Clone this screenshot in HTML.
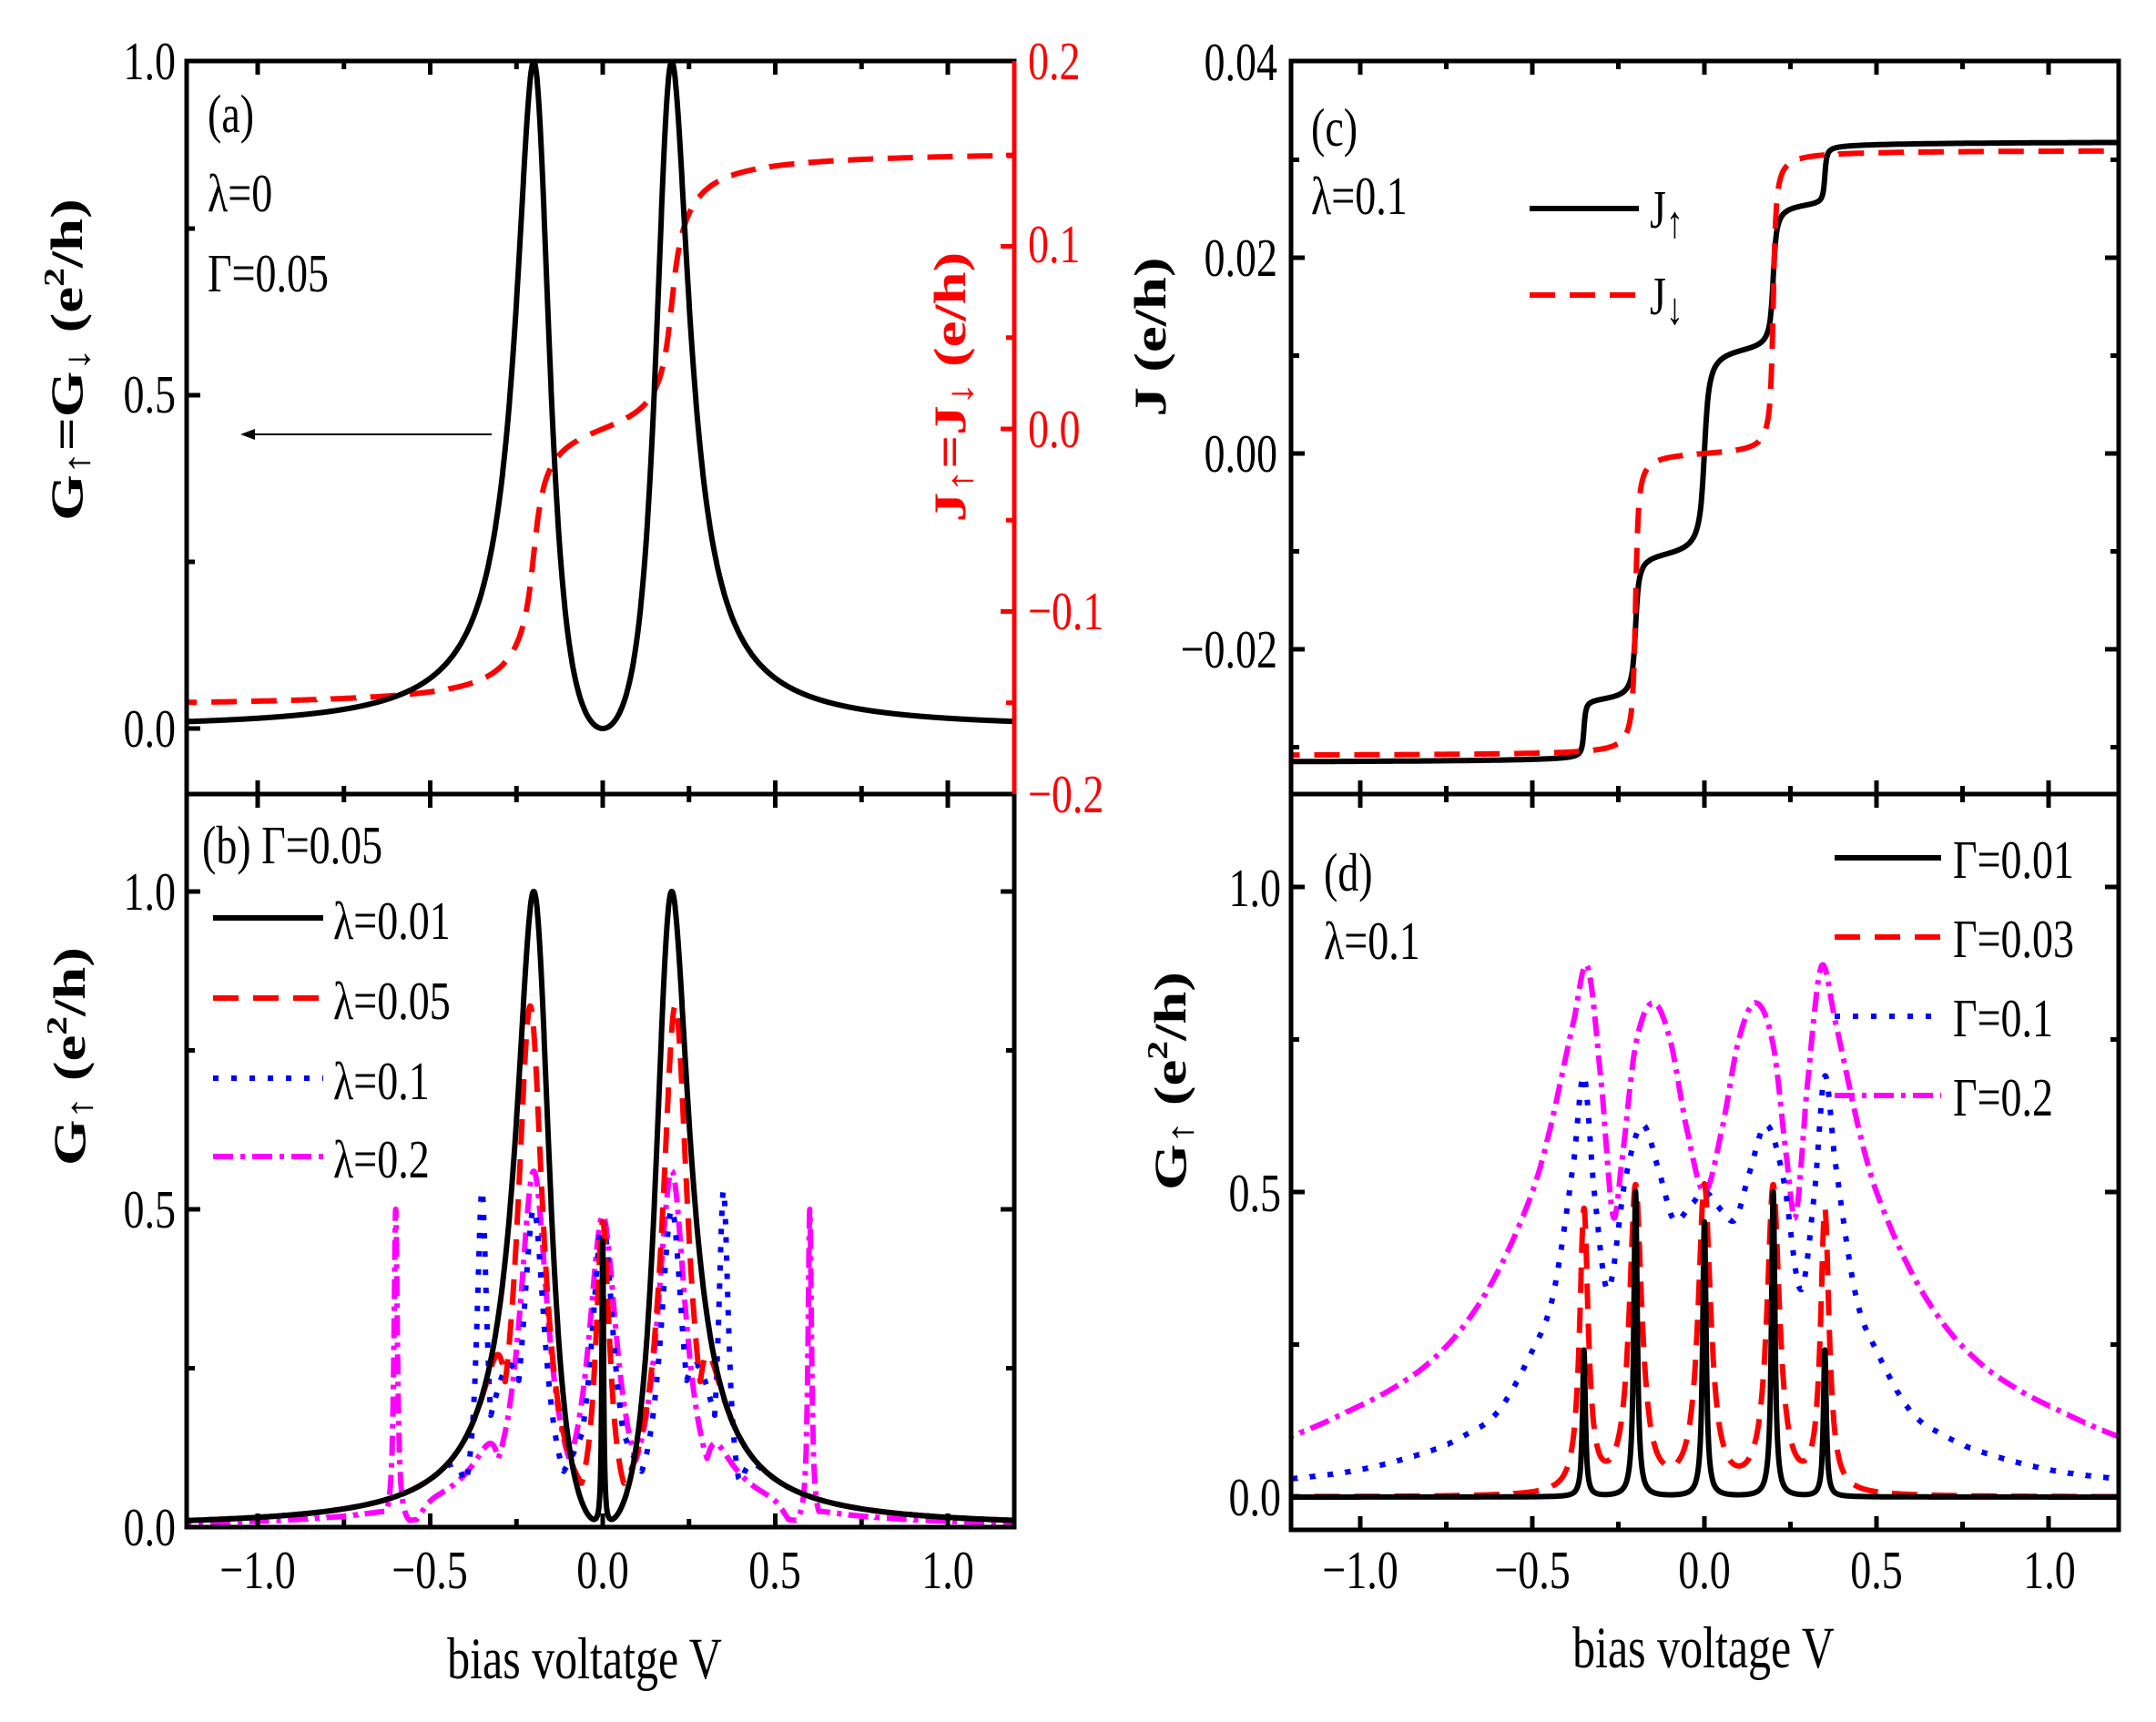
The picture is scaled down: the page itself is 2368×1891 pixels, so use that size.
<!DOCTYPE html>
<html><head><meta charset="utf-8">
<style>
html,body{margin:0;padding:0;background:#fff;}
svg{display:block;}
text{font-family:"Liberation Serif","DejaVu Serif",serif;}
.b{font-weight:bold;}
</style></head>
<body>
<svg id="s" width="2368" height="1891" viewBox="0 0 2368 1891" xmlns="http://www.w3.org/2000/svg">
<rect width="2368" height="1891" fill="#fff"/>
<defs>
<clipPath id="cA"><rect x="205" y="67" width="909" height="805"/></clipPath>
<clipPath id="cB"><rect x="205" y="872" width="909" height="805"/></clipPath>
<clipPath id="cC"><rect x="1418" y="67" width="909" height="805"/></clipPath>
<clipPath id="cD"><rect x="1418" y="872" width="909" height="808"/></clipPath>
</defs>
<g id="curves"></g>
<g id="ticks"></g>
<g fill="none" stroke="#000" stroke-width="5">
<rect x="205" y="67" width="909" height="1610"/>
<line x1="205" y1="872" x2="1114" y2="872"/>
<rect x="1418" y="67" width="909" height="1613"/>
<line x1="1418" y1="872" x2="2327" y2="872"/>
</g>
<line x1="1114" y1="67" x2="1114" y2="872" stroke="#f00" stroke-width="5"/>
<line x1="540" y1="477" x2="275" y2="477" stroke="#000" stroke-width="2"/>
<polygon points="264,477 280,471 280,483" fill="#000"/>

<g font-size="46">
<text transform="translate(193,87) scale(1,1.3)" text-anchor="end">1.0</text>
<text transform="translate(193,453) scale(1,1.3)" text-anchor="end">0.5</text>
<text transform="translate(193,820) scale(1,1.3)" text-anchor="end">0.0</text>
<g fill="#f00">
<text transform="translate(1129,87) scale(1,1.3)">0.2</text>
<text transform="translate(1129,288) scale(1,1.3)">0.1</text>
<text transform="translate(1129,491) scale(1,1.3)">0.0</text>
<text transform="translate(1129,691) scale(1,1.3)">−0.1</text>
<text transform="translate(1129,892) scale(1,1.3)">−0.2</text>
</g>
<text transform="translate(193,999) scale(1,1.3)" text-anchor="end">1.0</text>
<text transform="translate(193,1348) scale(1,1.3)" text-anchor="end">0.5</text>
<text transform="translate(193,1697) scale(1,1.3)" text-anchor="end">0.0</text>
<text transform="translate(283,1744) scale(1,1.3)" text-anchor="middle">−1.0</text>
<text transform="translate(472,1744) scale(1,1.3)" text-anchor="middle">−0.5</text>
<text transform="translate(662,1744) scale(1,1.3)" text-anchor="middle">0.0</text>
<text transform="translate(851,1744) scale(1,1.3)" text-anchor="middle">0.5</text>
<text transform="translate(1041,1744) scale(1,1.3)" text-anchor="middle">1.0</text>
<text transform="translate(1403,88) scale(1,1.3)" text-anchor="end">0.04</text>
<text transform="translate(1403,303) scale(1,1.3)" text-anchor="end">0.02</text>
<text transform="translate(1403,518) scale(1,1.3)" text-anchor="end">0.00</text>
<text transform="translate(1403,733) scale(1,1.3)" text-anchor="end">−0.02</text>
<text transform="translate(1407,995) scale(1,1.3)" text-anchor="end">1.0</text>
<text transform="translate(1407,1330) scale(1,1.3)" text-anchor="end">0.5</text>
<text transform="translate(1407,1664) scale(1,1.3)" text-anchor="end">0.0</text>
<text transform="translate(1494,1744) scale(1,1.3)" text-anchor="middle">−1.0</text>
<text transform="translate(1683,1744) scale(1,1.3)" text-anchor="middle">−0.5</text>
<text transform="translate(1872,1744) scale(1,1.3)" text-anchor="middle">0.0</text>
<text transform="translate(2061,1744) scale(1,1.3)" text-anchor="middle">0.5</text>
<text transform="translate(2251,1744) scale(1,1.3)" text-anchor="middle">1.0</text>

<text transform="translate(228,145) scale(1,1.3)">(a)</text>
<text transform="translate(228,232) scale(1,1.3)">λ=0</text>
<text transform="translate(228,320) scale(1,1.3)">Γ=0.05</text>
<text transform="translate(222,948) scale(1,1.3)">(b) Γ=0.05</text>
<text transform="translate(1440,160) scale(1,1.3)">(c)</text>
<text transform="translate(1440,235) scale(1,1.3)">λ=0.1</text>
<text transform="translate(1454,978) scale(1,1.3)">(d)</text>
<text transform="translate(1454,1053) scale(1,1.3)">λ=0.1</text>

<text transform="translate(366,1031) scale(1,1.3)">λ=0.01</text>
<text transform="translate(366,1119) scale(1,1.3)">λ=0.05</text>
<text transform="translate(366,1207) scale(1,1.3)">λ=0.1</text>
<text transform="translate(366,1293) scale(1,1.3)">λ=0.2</text>
<text transform="translate(1812,250) scale(1,1.3)">J<tspan font-size="38" dy="8">↑</tspan></text>
<text transform="translate(1812,345) scale(1,1.3)">J<tspan font-size="38" dy="8">↓</tspan></text>
<text transform="translate(2145,964) scale(1,1.3)">Γ=0.01</text>
<text transform="translate(2145,1051) scale(1,1.3)">Γ=0.03</text>
<text transform="translate(2145,1138) scale(1,1.3)">Γ=0.1</text>
<text transform="translate(2145,1225) scale(1,1.3)">Γ=0.2</text>
</g>

<text transform="translate(642,1843) scale(1,1.3)" text-anchor="middle" font-size="50">bias voltatge V</text>
<text transform="translate(1871,1831) scale(1,1.3)" text-anchor="middle" font-size="50">bias voltage V</text>

<g font-size="50" class="b">
<text class="b" transform="translate(90,395) scale(1,1.3) rotate(-90)" text-anchor="middle">G<tspan font-size="40" dy="8">↑</tspan><tspan dy="-8">=G</tspan><tspan font-size="40" dy="8">↓</tspan><tspan dy="-8"> (e</tspan><tspan font-size="32" dy="-20">2</tspan><tspan dy="20">/h)</tspan></text>
<text class="b" fill="#f00" transform="translate(1060,425) scale(1,1.3) rotate(-90)" text-anchor="middle">J<tspan font-size="40" dy="8">↑</tspan><tspan dy="-8">=J</tspan><tspan font-size="40" dy="8">↓</tspan><tspan dy="-8"> (e/h)</tspan></text>
<text class="b" transform="translate(93,1160) scale(1,1.3) rotate(-90)" text-anchor="middle">G<tspan font-size="40" dy="8">↑</tspan><tspan dy="-8"> (e</tspan><tspan font-size="32" dy="-20">2</tspan><tspan dy="20">/h)</tspan></text>
<text class="b" transform="translate(1280,370) scale(1,1.3) rotate(-90)" text-anchor="middle">J (e/h)</text>
<text class="b" transform="translate(1302,1187) scale(1,1.3) rotate(-90)" text-anchor="middle">G<tspan font-size="40" dy="8">↑</tspan><tspan dy="-8"> (e</tspan><tspan font-size="32" dy="-20">2</tspan><tspan dy="20">/h)</tspan></text>
</g>

<g stroke-width="6" fill="none">
<line x1="234" y1="1008" x2="355" y2="1008" stroke="#000"/>
<line x1="234" y1="1096" x2="355" y2="1096" stroke="#f00" stroke-dasharray="28 16"/>
<line x1="234" y1="1184" x2="355" y2="1184" stroke="#00f" stroke-dasharray="6 14"/>
<line x1="234" y1="1270" x2="355" y2="1270" stroke="#f0f" stroke-dasharray="22 8 5 8"/>
<line x1="1680" y1="229" x2="1800" y2="229" stroke="#000"/>
<line x1="1680" y1="324" x2="1800" y2="324" stroke="#f00" stroke-dasharray="28 16"/>
<line x1="2015" y1="942" x2="2132" y2="942" stroke="#000"/>
<line x1="2015" y1="1029" x2="2132" y2="1029" stroke="#f00" stroke-dasharray="28 16"/>
<line x1="2015" y1="1116" x2="2132" y2="1116" stroke="#00f" stroke-dasharray="6 14"/>
<line x1="2015" y1="1203" x2="2132" y2="1203" stroke="#f0f" stroke-dasharray="22 8 5 8"/>
</g>
</svg>
<script>
(function(){
var NS="http://www.w3.org/2000/svg";
var cg=document.getElementById("curves"), tg=document.getElementById("ticks");
function el(tag,attrs,parent){var e=document.createElementNS(NS,tag);for(var k in attrs)e.setAttribute(k,attrs[k]);parent.appendChild(e);return e;}
function L(v,c,h,w){return h/(1+Math.pow((v-c)/w,2));}
function gA(v){var G=0.12,e=0.2,a=G*G*v*v,b=v*v-e*e;return a/(b*b+a);}
function sm(x){return 1/(1+Math.exp(-x));}
function st(v,c,s){return Math.atan((v-c)/s)/Math.PI+0.5;}
function herm(pts){
  var P=pts;
  return function(v){var x=Math.abs(v);
    for(var i=0;i<P.length-1;i++){if(x<=P[i+1][0]){
      var x0=P[i][0],x1=P[i+1][0],y0=P[i][1],y1=P[i+1][1];
      var pm=i>0?P[i-1]:[-P[1][0],P[1][1]], pn=i+2<P.length?P[i+2]:P[i+1];
      var m0=(y1-pm[1])/(x1-pm[0]), m1=(pn[1]-y0)/(pn[0]-x0);
      var h=x1-x0,t=(x-x0)/h,t2=t*t,t3=t2*t;
      return (2*t3-3*t2+1)*y0+(t3-2*t2+t)*h*m0+(-2*t3+3*t2)*y1+(t3-t2)*h*m1;}}
    return P[P.length-1][1];};
}
function draw(fn,X,Y,clip,color,dash,w){
  var d="",n=4800;
  for(var i=0;i<=n;i++){var v=-1.25+2.5*i/n;var x=X(v),y=Y(fn(v));d+=(i?"L":"M")+x.toFixed(1)+","+y.toFixed(1);}
  var a={d:d,fill:"none",stroke:color,"stroke-width":w||5.5,"clip-path":"url(#"+clip+")","stroke-linejoin":"round"};
  if(dash)a["stroke-dasharray"]=dash;
  el("path",a,cg);
}
var XL=function(v){return 662+379*v;}, XR=function(v){return 1872+378*v;};
var YA=function(g){return 800-732*g;}, YAJ=function(j){return 471-2005*j;};
var YB=function(g){return 1677-698*g;};
var YC=function(j){return 498-10750*j;};
var YD=function(g){return 1644-670*g;};
var RD="28 16", BL="6 14", MG="22 8 5 8";
// panel a
draw(function(v){return 0.11*(st(v,-0.2,0.022)+st(v,0.2,0.022)-1)+0.043*(st(v,-0.22,0.08)+st(v,0.22,0.08)-1);},XL,YAJ,"cA","#f00",RD,6);
draw(gA,XL,YA,"cA","#000",null,6);
// panel b
var tailW=function(v,c){return sm((Math.abs(v)-c)/0.015);};
draw(function(v){return Math.max(L(v,0.6,0.5,0.006),L(v,-0.6,0.5,0.006),L(v,0.2,0.56,0.05),L(v,-0.2,0.56,0.05),L(v,0,0.49,0.05),
  0.6*gA(v)*tailW(v,0.3)*(1-0.9*Math.exp(-Math.pow((Math.abs(v)-0.56)/0.04,2))));},XL,YB,"cB","#f0f",MG,6);
draw(function(v){return Math.max(L(v,0.35,0.53,0.018),L(v,-0.35,0.53,0.018),L(v,0.2,0.5,0.04),L(v,-0.2,0.5,0.04),L(v,0,0.48,0.04),
  0.25*L(v,0.27,1,0.08)+0.25*L(v,-0.27,1,0.08),0.2*L(v,0,1,0.1),gA(v)*tailW(v,0.4));},XL,YB,"cB","#00f",BL,6);
draw(function(v){return Math.max(L(v,0.21,0.82,0.045),L(v,-0.21,0.82,0.045),L(v,0,0.48,0.025),gA(v)*tailW(v,0.28));},XL,YB,"cB","#f00",RD,6);
draw(function(v){return gA(v)+L(v,0,0.45,0.003);},XL,YB,"cB","#000",null,6);
// panel c
draw(function(v){return -0.0316+0.006*st(v,-0.35,0.004)+0.015*st(v,-0.2,0.007)+0.0215*st(v,0,0.01)+0.015*st(v,0.2,0.007)+0.006*st(v,0.35,0.004);},XR,YC,"cC","#000",null,6);
draw(function(v){return -0.0309+0.0309*st(v,-0.2,0.006)+0.031*st(v,0.2,0.006);},XR,YC,"cC","#f00",RD,6);
// panel d
var magD=herm([[0,0.5],[0.05,0.6],[0.1,0.75],[0.15,0.81],[0.2,0.74],[0.24,0.55],[0.265,0.46],[0.3,0.68],[0.34,0.87],[0.38,0.78],[0.45,0.6],[0.5,0.5],[0.6,0.37],[0.7,0.28],[0.8,0.22],[0.9,0.18],[1.0,0.15],[1.2,0.1],[1.3,0.09]]);
var bluD=herm([[0,0.5],[0.05,0.47],[0.09,0.455],[0.13,0.53],[0.18,0.61],[0.23,0.52],[0.28,0.34],[0.32,0.5],[0.35,0.69],[0.38,0.55],[0.44,0.33],[0.5,0.24],[0.6,0.14],[0.7,0.1],[0.8,0.075],[1.0,0.045],[1.2,0.03],[1.3,0.027]]);
draw(magD,XR,YD,"cD","#f0f",MG,6);
draw(bluD,XR,YD,"cD","#00f",BL,6);
draw(function(v){return L(v,0,0.5,0.022)+L(v,0.2,0.5,0.022)+L(v,-0.2,0.5,0.022)+L(v,0.35,0.46,0.015)+L(v,-0.35,0.46,0.015);},XR,YD,"cD","#f00",RD,6);
draw(function(v){return L(v,0,0.45,0.006)+L(v,0.2,0.5,0.006)+L(v,-0.2,0.5,0.006)+L(v,0.35,0.24,0.005)+L(v,-0.35,0.24,0.005);},XR,YD,"cD","#000",null,6);
function tk(x1,y1,x2,y2,c){el("line",{x1:x1,y1:y1,x2:x2,y2:y2,stroke:c||"#000","stroke-width":5},tg);}
function xticks(X,yt,yb){
  [-1,-0.5,0,0.5,1].forEach(function(v){var x=X(v);tk(x,yt,x,yt+15);tk(x,yb,x,yb-15);});
  [-0.75,-0.25,0.25,0.75].forEach(function(v){var x=X(v);tk(x,yt,x,yt+9);tk(x,yb,x,yb-9);});
}
xticks(XL,67,872); xticks(XL,872,1677); xticks(XR,67,872); xticks(XR,872,1680);
function yticks(vals,mins,Y,xl,xr,cl,cr){
  vals.forEach(function(g){var y=Y(g);if(xl!=null)tk(xl,y,xl+15,y,cl);if(xr!=null)tk(xr,y,xr-15,y,cr);});
  mins.forEach(function(g){var y=Y(g);if(xl!=null)tk(xl,y,xl+9,y,cl);if(xr!=null)tk(xr,y,xr-9,y,cr);});
}
yticks([0,0.5],[0.25,0.75],YA,205,null);
yticks([0.1,0,-0.1],[0.15,0.05,-0.05,-0.15],YAJ,null,1114,null,"#f00");
yticks([0,0.5,1],[0.25,0.75],YB,205,1114);
yticks([-0.02,0,0.02],[-0.03,-0.01,0.01,0.03],YC,1418,2327);
yticks([0,0.5,1],[0.25,0.75],YD,1418,2327);
})();
</script>
</body></html>
